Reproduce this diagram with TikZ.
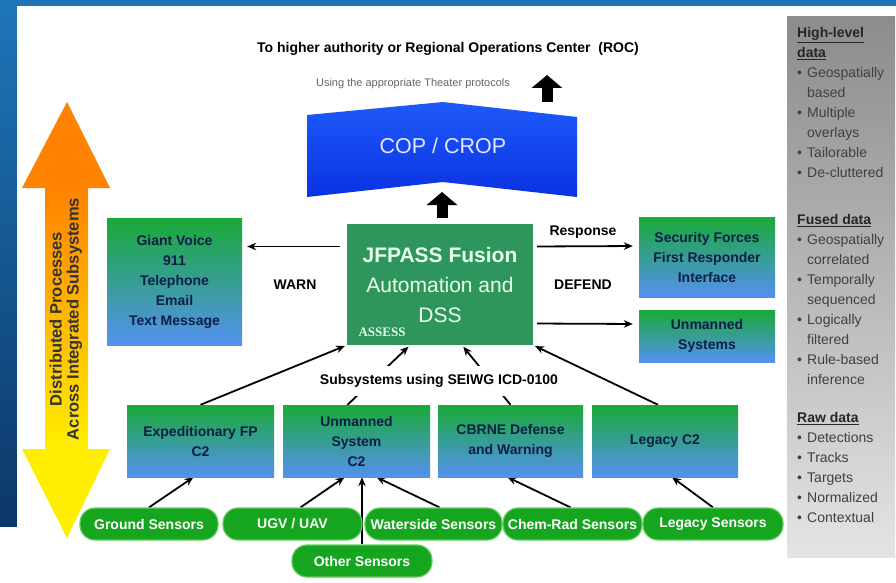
\documentclass[tikz,border=0pt]{standalone}
\usepackage{fontspec}
\setmainfont{Liberation Sans}
\newfontfamily\assessfont{Liberation Serif}
\usepackage{tikz}
\usetikzlibrary{arrows.meta,backgrounds}
\definecolor{bgblue}{RGB}{30,118,184}
\definecolor{bgnavy}{RGB}{10,48,96}
\definecolor{boxgreen}{RGB}{25,170,55}
\definecolor{boxblue}{RGB}{85,145,240}
\definecolor{boxtext}{RGB}{15,30,70}
\definecolor{fusegreen}{RGB}{46,150,92}
\definecolor{fusetext}{RGB}{232,255,232}
\definecolor{copblue}{RGB}{30,90,250}
\definecolor{copdark}{RGB}{10,50,225}
\definecolor{pillgreen}{RGB}{22,165,30}
\definecolor{pillrim}{RGB}{100,205,100}
\definecolor{arroworange}{RGB}{255,130,0}
\definecolor{arrowmid}{RGB}{255,192,0}
\definecolor{arrowyellow}{RGB}{255,238,0}
\definecolor{panelgrey}{RGB}{140,140,140}
\definecolor{panellight}{RGB}{228,228,228}
\definecolor{itemgrey}{RGB}{64,64,64}
\newcommand\pbul{\makebox[10pt][l]{\textbullet}}
\newcommand\pind{\hspace*{10pt}}

\begin{document}
\begin{tikzpicture}[x=1pt,y=-1pt,
    box/.style={top color=boxgreen,bottom color=boxblue,text=boxtext,
      font=\bfseries\fontsize{14}{20}\selectfont,align=center,inner sep=0pt},
    pill/.style={fill=pillgreen,draw=pillrim,line width=1.2pt,rounded corners=15pt,
      minimum height=32pt,inner sep=0pt,text=white,
      font=\bfseries\fontsize{14}{16}\selectfont},
    conn/.style={line width=1.8pt,-{Stealth[length=9pt,width=7.5pt]}},
    fat/.style={line width=11pt,-{Triangle[length=13pt,width=30pt]}},
    lbl/.style={font=\bfseries\fontsize{14}{16}\selectfont},
    side/.style={anchor=north west,align=left,inner sep=0pt,text=itemgrey,
      font=\fontsize{14}{20}\selectfont}]
    \useasboundingbox (0,0) rectangle (896,583);
    \begin{pgfonlayer}{background}
      \shade[top color=bgblue,bottom color=bgnavy] (0,0) rectangle (896,583);
      \fill[white] (17,6) rectangle (896,583);
      \fill[white] (0,527) rectangle (17,583);
    \end{pgfonlayer}

    \fill[arroworange] (22,188) -- (67,102) -- (110,188) -- cycle;
    \shade[top color=arroworange,middle color=arrowmid,bottom color=arrowyellow]
      (45,187.5) rectangle (88,449.5);
    \fill[arrowyellow] (22,449) -- (110,449) -- (67,538) -- cycle;
    \node[rotate=90,align=center,text=black!80,
      font=\bfseries\fontsize{16.5}{17}\selectfont] (dist) at (66,319)
      {Distributed Processes\\Across Integrated Subsystems};

    \node[font=\bfseries\fontsize{14}{16}\selectfont] (roc) at (448,49)
      {To higher authority or Regional Operations Center\ \ (ROC)};
    \node[text=black!60,font=\fontsize{11}{13}\selectfont] (proto) at (413,84)
      {Using the appropriate Theater protocols};
    \coordinate (upt) at (547,102);
    \coordinate (uph) at (547,75);
    \draw[fat] (upt) to (uph);

    \shade[top color=copblue,bottom color=copdark] (307,115) -- (443,102) -- (577,117)
      -- (577,197) -- (443,182) -- (307,197) -- cycle;
    \node[text=white!90!blue,font=\fontsize{21.5}{24}\selectfont] (cop) at (443,146) {COP / CROP};
    \coordinate (copb) at (442,182);

    \node[fill=fusegreen,minimum width=186pt,minimum height=121pt,inner sep=0pt,
      align=center,text=fusetext,font=\fontsize{21}{30}\selectfont] (jf) at (440,284.5)
      {\textbf{JFPASS Fusion}\\Automation and\\DSS};
    \node[text=fusetext,font=\assessfont\bfseries\fontsize{13}{14}\selectfont] (assess)
      at (382,332) {ASSESS};

    \node[box,minimum width=135pt,minimum height=127pt] (giant) at (174.5,281.5)
      {Giant Voice\\911\\Telephone\\Email\\Text Message};
    \node[box,minimum width=136pt,minimum height=80pt] (sec) at (707,257)
      {Security Forces\\First Responder\\Interface};
    \node[box,minimum width=136pt,minimum height=52pt] (uns) at (707,336)
      {Unmanned\\Systems};
    \node[lbl] (warn) at (295,285) {WARN};
    \node[lbl] (resp) at (583,232) {Response};
    \node[lbl] (defend) at (583,285) {DEFEND};

    \node[box,minimum width=147pt,minimum height=72pt] (exp) at (200.5,441)
      {Expeditionary FP\\C2};
    \node[box,minimum width=147pt,minimum height=72pt] (ums) at (356.5,441)
      {Unmanned\\System\\C2};
    \node[box,minimum width=145pt,minimum height=72pt] (cbr) at (510.5,441)
      {CBRNE Defense\\and Warning};
    \node[box,minimum width=146pt,minimum height=72pt] (leg) at (665,441)
      {Legacy C2};

    \node[pill,minimum width=138pt] (gnd) at (149,524) {Ground Sensors};
    \node[pill,minimum width=139pt] (ugv) at (292.5,524) {UGV / UAV};
    \node[pill,minimum width=137pt] (wat) at (433.5,524) {Waterside Sensors};
    \node[pill,minimum width=139pt] (chm) at (572.5,524) {Chem-Rad Sensors};
    \node[pill,minimum width=140pt] (lgs) at (713,524) {Legacy Sensors};
    \node[pill,minimum width=140pt] (oth) at (362,561) {Other Sensors};

    \begin{pgfonlayer}{background}
      \draw[fat,shorten <=6pt,shorten >=10pt] (jf.north -| copb) to (copb);
      \draw[conn,shorten <=7pt,shorten >=5pt] ([yshift=38pt]jf.west) to ([yshift=35pt]giant.east);
      \draw[conn,shorten <=4pt,shorten >=6pt] ([yshift=38pt]jf.east) to ([yshift=11pt]sec.west);
      \draw[conn,shorten <=4pt,shorten >=6pt] ([yshift=-39pt]jf.east) to ([yshift=12pt]uns.west);
      \draw[conn,shorten >=2pt] (exp.north) to (jf.south west);
      \draw[conn,shorten >=2pt] ([xshift=-9pt]ums.north) to ([xshift=-30pt]jf.south);
      \draw[conn,shorten >=2pt] (cbr.north) to ([xshift=22pt]jf.south);
      \draw[conn,shorten >=2pt] ([xshift=-7pt]leg.north) to (jf.south east);
      \draw[conn] (gnd.north) to ([xshift=-7pt]exp.south);
      \draw[conn] ([xshift=8pt]ugv.north) to ([xshift=-12pt]ums.south);
      \draw[conn,line width=2.4pt] (oth.north) to ([xshift=5.5pt]ums.south);
      \draw[conn] ([xshift=6pt]wat.north) to ([xshift=20pt]ums.south);
      \draw[conn] ([xshift=-2pt]chm.north) to ([xshift=-3pt]cbr.south);
      \draw[conn] (lgs.north) to ([xshift=7pt]leg.south);
    \end{pgfonlayer}
    \node[lbl,fill=white,minimum height=30pt,inner xsep=2pt] (icd) at (439,381)
      {Subsystems using SEIWG ICD-0100};

    \shade[top color=panelgrey,bottom color=panellight] (787,17) rectangle (895,557);
    \node[side] (hi) at (797,27)
      {{\bfseries\color{black!85}\underline{High-level}}\\
       {\bfseries\color{black!85}\underline{data}}\\
       \pbul Geospatially\\ \pind based\\
       \pbul Multiple\\ \pind overlays\\
       \pbul Tailorable\\
       \pbul De-cluttered};
    \node[side] (fused) at (797,214)
      {{\bfseries\color{black!85}\underline{Fused data}}\\
       \pbul Geospatially\\ \pind correlated\\
       \pbul Temporally\\ \pind sequenced\\
       \pbul Logically\\ \pind filtered\\
       \pbul Rule-based\\ \pind inference};
    \node[side] (raw) at (797,412)
      {{\bfseries\color{black!85}\underline{Raw data}}\\
       \pbul Detections\\
       \pbul Tracks\\
       \pbul Targets\\
       \pbul Normalized\\
       \pbul Contextual};
\end{tikzpicture}
\end{document}
